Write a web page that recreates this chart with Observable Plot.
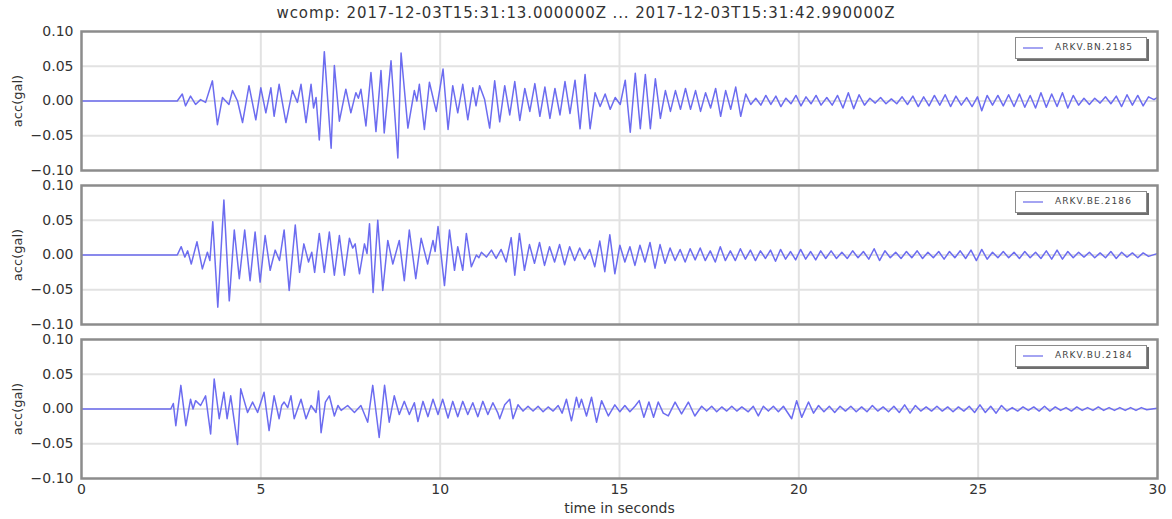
<!DOCTYPE html>
<html>
<head>
<meta charset="utf-8">
<script src="https://cdn.jsdelivr.net/npm/d3@7"></script>
<script src="https://cdn.jsdelivr.net/npm/@observablehq/plot@0.6"></script>
<style>
  html, body { margin: 0; padding: 0; background: #fff; }
  #wrap { position: relative; width: 1172px; height: 519px; font-family: "DejaVu Sans", sans-serif; color: #333; }
  #title { height: 22px; line-height: 26px; text-align: center; font-size: 15px; letter-spacing: 0.9px; color: #333; white-space: nowrap; }
  .legend { position: absolute; width: 130px; height: 20px; background: #fff; border: 1px solid #8a8a8a; box-shadow: 2px 2px 0 #6e6e6e; font-size: 9px; color: #444; }
  .legend .sw { position: absolute; left: 7px; top: 9px; width: 20px; height: 0; border-top: 2px solid #a4a4f2; }
  .legend .lb { position: absolute; left: 39px; top: 4px; white-space: nowrap; letter-spacing: 1.1px; }
</style>
</head>
<body>
<div id="wrap">
  <div id="title"></div>
</div>
<script>
const titleText = "wcomp: 2017-12-03T15:31:13.000000Z ... 2017-12-03T15:31:42.990000Z";
const stations = ["ARKV.BN.2185", "ARKV.BE.2186", "ARKV.BU.2184"];
const xTicks = [0, 5, 10, 15, 20, 25, 30];
const yTicks = [-0.10, -0.05, 0.00, 0.05, 0.10];
const xLabel = "time in seconds";
const yLabel = "acc(gal)";

// [time (s), acceleration (gal)] vertices
const seriesBN = [
  [0,0],[2.67,0],[2.81,0.010],[2.90,-0.007],[3.04,0.007],[3.18,-0.005],[3.32,0.002],[3.46,-0.002],[3.65,0.029],[3.79,-0.034],
  [3.93,0.005],[4.11,-0.005],[4.21,0.015],[4.35,0],[4.49,-0.031],[4.67,0.022],[4.86,-0.027],[5.00,0.019],[5.14,-0.017],[5.28,0.019],
  [5.37,-0.022],[5.51,0.024],[5.70,-0.031],[5.88,0.015],[6.02,-0.002],[6.12,0.024],[6.26,-0.031],[6.40,0.024],[6.47,-0.010],[6.54,0.005],
  [6.63,-0.056],[6.77,0.071],[6.96,-0.068],[7.05,0.051],[7.19,-0.029],[7.37,0.017],[7.51,-0.017],[7.65,0.012],[7.72,0.004],[7.79,0.017],
  [7.93,-0.036],[8.07,0.041],[8.21,-0.044],[8.35,0.044],[8.44,-0.046],[8.63,0.058],[8.82,-0.082],[8.91,0.069],[9.10,-0.039],[9.28,0.015],
  [9.35,0.0],[9.42,0.024],[9.56,-0.041],[9.70,0.027],[9.89,-0.015],[10.08,0.046],[10.22,-0.041],[10.35,0.022],[10.49,-0.017],[10.63,0.024],
  [10.77,-0.027],[10.91,0.019],[11.00,-0.007],[11.10,0.022],[11.24,0.002],[11.38,-0.039],[11.52,0.029],[11.66,-0.030],[11.80,0.022],[11.94,-0.020],
  [12.08,0.028],[12.22,-0.028],[12.36,0.018],[12.50,-0.015],[12.64,0.025],[12.78,-0.022],[12.92,0.020],[13.06,-0.025],[13.20,0.018],[13.34,-0.020],
  [13.48,0.028],[13.62,-0.018],[13.76,0.030],[13.90,-0.040],[14.04,0.038],[14.18,-0.040],[14.32,0.012],[14.46,-0.008],[14.60,0.010],[14.74,-0.012],
  [14.88,0.005],[15.02,-0.005],[15.16,0.030],[15.30,-0.045],[15.44,0.040],[15.58,-0.040],[15.72,0.038],[15.86,-0.040],[16.00,0.032],[16.14,-0.025],
  [16.28,0.015],[16.42,-0.015],[16.56,0.015],[16.70,-0.012],[16.84,0.018],[16.98,-0.012],[17.12,0.015],[17.26,-0.015],[17.40,0.012],[17.54,-0.010],
  [17.68,0.018],[17.82,-0.022],[17.96,0.015],[18.10,-0.012],[18.24,0.020],[18.38,-0.022],[18.52,0.010],[18.66,-0.005],[18.80,0.004],[18.94,-0.006],
  [19.08,0.008],[19.22,-0.005],[19.36,0.007],[19.50,-0.008],[19.64,0.004],[19.78,-0.004],[19.92,0.008],[20.06,-0.007],[20.20,0.006],[20.34,-0.004],
  [20.48,0.008],[20.62,-0.006],[20.78,0.005],[20.93,-0.006],[21.08,0.008],[21.23,-0.010],[21.38,0.012],[21.53,-0.011],[21.68,0.009],[21.83,-0.006],
  [21.98,0.004],[22.13,-0.003],[22.28,0.005],[22.43,-0.004],[22.58,0.003],[22.73,-0.004],[22.88,0.006],[23.03,-0.005],[23.18,0.007],[23.33,-0.008],
  [23.48,0.006],[23.63,-0.007],[23.78,0.008],[23.93,-0.006],[24.08,0.009],[24.23,-0.008],[24.38,0.007],[24.53,-0.006],[24.68,0.005],[24.83,-0.008],
  [24.98,0.006],[25.10,-0.014],[25.25,0.008],[25.40,-0.006],[25.55,0.008],[25.70,-0.007],[25.85,0.009],[26.00,-0.008],[26.15,0.010],[26.30,-0.009],
  [26.45,0.008],[26.60,-0.010],[26.75,0.012],[26.90,-0.009],[27.05,0.010],[27.20,-0.008],[27.35,0.012],[27.50,-0.010],[27.65,0.008],[27.80,-0.006],
  [27.95,0.004],[28.10,-0.005],[28.25,0.004],[28.40,-0.003],[28.55,0.006],[28.70,-0.004],[28.85,0.007],[29.00,-0.008],[29.15,0.009],[29.30,-0.006],
  [29.45,0.008],[29.60,-0.007],[29.75,0.006],[29.90,0.002],[29.99,0.005]
];

const seriesBE = [
  [0,0],[2.67,0],[2.78,0.012],[2.88,-0.003],[2.96,0.006],[3.06,-0.013],[3.22,0.019],[3.37,-0.020],[3.51,0.004],[3.58,-0.008],
  [3.66,0.048],[3.80,-0.075],[3.97,0.079],[4.12,-0.066],[4.26,0.036],[4.40,-0.034],[4.55,0.036],[4.70,-0.037],[4.84,0.033],[4.98,-0.039],
  [5.12,0.028],[5.26,-0.022],[5.40,0.007],[5.52,-0.008],[5.65,0.036],[5.79,-0.051],[5.96,0.043],[6.08,-0.025],[6.20,0.016],[6.33,-0.010],
  [6.42,0.004],[6.50,-0.025],[6.63,0.031],[6.77,-0.025],[6.91,0.033],[7.05,-0.029],[7.19,0.028],[7.33,-0.029],[7.47,0.024],[7.56,0.010],
  [7.63,0.016],[7.75,-0.027],[7.89,0.016],[7.96,0.002],[8.03,0.045],[8.13,-0.054],[8.26,0.050],[8.40,-0.051],[8.54,0.021],[8.68,-0.013],
  [8.86,0.021],[9.00,-0.037],[9.14,0.036],[9.32,-0.034],[9.47,0.024],[9.65,-0.013],[9.80,0.021],[9.86,0.005],[9.94,0.041],[10.12,-0.044],
  [10.26,0.036],[10.40,-0.022],[10.49,0.012],[10.63,-0.022],[10.73,0.031],[10.87,-0.017],[11.01,0],[11.08,-0.004],[11.15,0.004],[11.29,-0.003],
  [11.43,0.007],[11.56,-0.005],[11.70,0.008],[11.84,-0.010],[11.98,0.025],[12.08,-0.029],[12.21,0.031],[12.35,-0.022],[12.49,0.015],[12.63,-0.012],
  [12.77,0.018],[12.91,-0.015],[13.05,0.012],[13.19,-0.010],[13.33,0.015],[13.47,-0.014],[13.61,0.012],[13.75,-0.008],[13.89,0.010],[14.03,-0.006],
  [14.17,0.008],[14.31,-0.017],[14.45,0.020],[14.59,-0.024],[14.73,0.029],[14.87,-0.027],[15.01,0.014],[15.15,-0.010],[15.29,0.012],[15.43,-0.015],
  [15.57,0.014],[15.71,-0.010],[15.85,0.018],[15.99,-0.019],[16.13,0.015],[16.27,-0.012],[16.41,0.010],[16.55,-0.008],[16.69,0.008],[16.83,-0.010],
  [16.97,0.009],[17.11,-0.007],[17.25,0.010],[17.39,-0.008],[17.53,0.006],[17.67,-0.010],[17.81,0.012],[17.95,-0.008],[18.09,0.006],[18.23,-0.008],
  [18.37,0.009],[18.51,-0.006],[18.65,0.007],[18.79,-0.008],[18.93,0.006],[19.07,-0.005],[19.21,0.007],[19.35,-0.009],[19.49,0.008],[19.63,-0.006],
  [19.77,0.005],[19.91,-0.007],[20.05,0.008],[20.19,-0.006],[20.33,0.005],[20.47,-0.007],[20.61,0.006],[20.75,-0.005],[20.90,0.006],[21.05,-0.005],
  [21.20,0.004],[21.35,-0.005],[21.50,0.006],[21.65,-0.004],[21.80,0.005],[21.95,-0.006],[22.10,0.009],[22.25,-0.008],[22.40,0.006],[22.55,-0.004],
  [22.70,0.004],[22.85,-0.005],[23.00,0.005],[23.15,-0.004],[23.30,0.006],[23.45,-0.005],[23.60,0.004],[23.75,-0.004],[23.90,0.005],[24.05,-0.006],
  [24.20,0.005],[24.35,-0.004],[24.50,0.006],[24.65,-0.005],[24.80,0.007],[24.95,-0.008],[25.10,0.008],[25.25,-0.006],[25.40,0.004],[25.55,-0.004],
  [25.70,0.005],[25.85,-0.004],[26.00,0.004],[26.15,-0.005],[26.30,0.005],[26.45,-0.004],[26.60,0.004],[26.75,-0.005],[26.90,0.006],[27.05,-0.006],
  [27.20,0.007],[27.35,-0.006],[27.50,0.005],[27.65,-0.004],[27.80,0.004],[27.95,-0.003],[28.10,0.004],[28.25,-0.004],[28.40,0.003],[28.55,-0.004],
  [28.70,0.005],[28.85,-0.005],[29.00,0.004],[29.15,-0.003],[29.30,0.003],[29.45,-0.004],[29.60,0.003],[29.75,-0.002],[29.99,0.002]
];

const seriesBU = [
  [0,0],[2.49,0],[2.56,0.008],[2.63,-0.024],[2.77,0.034],[2.91,-0.024],[3.04,0.014],[3.11,0],[3.18,0.012],[3.32,0.005],
  [3.46,0.019],[3.60,-0.036],[3.70,0.043],[3.84,-0.014],[3.97,0.024],[4.06,-0.014],[4.16,0.019],[4.35,-0.051],[4.44,0.029],[4.63,-0.005],
  [4.77,0.010],[4.91,-0.005],[5.09,0.024],[5.23,-0.031],[5.37,0.019],[5.51,-0.014],[5.58,0.005],[5.65,0.010],[5.75,0.002],[5.84,0.019],
  [5.93,-0.014],[6.12,0.014],[6.26,-0.014],[6.40,0.005],[6.54,-0.005],[6.61,0.026],[6.68,-0.034],[6.80,0.010],[6.91,0.019],[7.05,-0.010],
  [7.15,0.005],[7.24,-0.002],[7.42,0.005],[7.61,-0.005],[7.79,0.005],[7.98,-0.019],[8.12,0.034],[8.30,-0.041],[8.45,0.034],[8.58,-0.019],
  [8.72,0.019],[8.86,-0.008],[9.00,0.011],[9.14,-0.008],[9.28,0.009],[9.38,-0.018],[9.52,0.011],[9.66,-0.011],[9.80,0.014],[9.94,-0.008],
  [10.07,0.014],[10.22,-0.013],[10.35,0.011],[10.49,-0.011],[10.63,0.011],[10.77,-0.008],[10.91,0.009],[11.05,-0.011],[11.19,0.011],[11.33,-0.008],
  [11.47,0.009],[11.61,-0.006],[11.66,-0.014],[11.80,0.006],[11.94,0.014],[12.03,-0.014],[12.17,0.006],[12.31,-0.003],[12.45,0.004],[12.59,-0.003],
  [12.73,0.004],[12.87,-0.004],[13.01,0.003],[13.15,-0.003],[13.29,0.005],[13.40,-0.006],[13.52,0.014],[13.66,-0.017],[13.80,0.017],[13.87,0.002],
  [13.94,0.014],[14.08,-0.010],[14.22,0.017],[14.36,-0.019],[14.50,0.012],[14.69,-0.010],[14.87,0.006],[15.01,-0.004],[15.15,0.005],[15.29,-0.004],
  [15.43,0.004],[15.55,0.012],[15.68,-0.012],[15.82,0.010],[15.95,-0.012],[16.08,0.010],[16.22,-0.006],[16.36,-0.010],[16.55,0.010],[16.73,-0.007],
  [16.92,0.010],[17.10,-0.010],[17.29,0.004],[17.43,-0.003],[17.57,0.004],[17.71,-0.004],[17.85,0.003],[17.99,-0.003],[18.13,0.004],[18.27,-0.003],
  [18.41,0.003],[18.59,-0.004],[18.73,0.004],[18.87,-0.010],[19.01,0.004],[19.15,-0.003],[19.29,0.004],[19.43,-0.004],[19.57,0.004],[19.80,-0.014],
  [19.94,0.012],[20.08,-0.012],[20.27,0.010],[20.41,-0.006],[20.55,0.005],[20.70,-0.004],[20.85,0.004],[21.00,-0.005],[21.15,0.004],[21.30,-0.003],
  [21.45,0.004],[21.60,-0.004],[21.75,0.003],[21.90,-0.004],[22.05,0.005],[22.20,-0.003],[22.35,0.003],[22.50,-0.004],[22.65,0.004],[22.80,-0.005],
  [22.95,0.006],[23.10,-0.006],[23.25,0.005],[23.40,-0.003],[23.55,0.003],[23.70,-0.003],[23.85,0.004],[24.00,-0.003],[24.15,0.003],[24.30,-0.004],
  [24.45,0.003],[24.60,-0.003],[24.75,0.004],[24.90,-0.005],[25.05,0.006],[25.20,-0.005],[25.35,0.004],[25.50,-0.006],[25.65,0.005],[25.80,-0.003],
  [25.95,0.002],[26.10,-0.003],[26.25,0.003],[26.40,-0.002],[26.55,0.003],[26.70,-0.003],[26.85,0.004],[27.00,-0.003],[27.15,0.003],[27.30,-0.002],
  [27.45,0.002],[27.60,-0.003],[27.75,0.003],[27.90,-0.002],[28.05,0.002],[28.20,-0.002],[28.35,0.003],[28.50,-0.002],[28.65,0.002],[28.80,-0.002],
  [28.95,0.002],[29.10,-0.002],[29.25,0.002],[29.40,-0.002],[29.55,0.002],[29.70,-0.001],[29.99,0.001]
];

const allSeries = [seriesBN, seriesBE, seriesBU];
const rows = [];
allSeries.forEach((s, i) => s.forEach(([t, v]) => rows.push({panel: stations[i], t, v})));

document.getElementById("title").textContent = titleText;

const chart = Plot.plot({
  width: 1172,
  height: 497,
  marginLeft: 81,
  marginRight: 15,
  marginTop: 9,
  marginBottom: 41,
  style: {fontFamily: "DejaVu Sans, sans-serif", fontSize: "14px", color: "#333", background: "white", overflow: "visible"},
  facet: {data: rows, y: "panel", marginTop: 9, marginBottom: 41, marginRight: 15, label: null},
  fy: {domain: stations, axis: null, paddingInner: 0.1, paddingOuter: 0},
  x: {domain: [0, 30], ticks: xTicks, tickSize: 0, tickPadding: 6, label: xLabel, labelArrow: "none", labelAnchor: "center", labelOffset: 34},
  y: {domain: [-0.1, 0.1], ticks: yTicks, tickFormat: d3.format(".2f"), tickSize: 0, tickPadding: 8, label: null},
  marks: [
    Plot.gridX(xTicks.slice(1, -1), {stroke: "#e2e2e2", strokeWidth: 2, strokeOpacity: 1}),
    Plot.gridY(yTicks.slice(1, -1), {stroke: "#e2e2e2", strokeWidth: 2, strokeOpacity: 1}),
    Plot.line(rows, {x: "t", y: "v", z: "panel", stroke: "#6c6cf0", strokeWidth: 1.5}),
    Plot.frame({stroke: "#8c8c8c", strokeWidth: 2.5}),
    Plot.text([yLabel], {frameAnchor: "left", rotate: -90, dx: -64, textAnchor: "middle", fontSize: 13, fill: "#333"})
  ]
});

const wrap = document.getElementById("wrap");
wrap.appendChild(chart);

// legends (one per panel, placed in the top-right corner of each panel)
const svgRect = chart.getBoundingClientRect();
const wrapRect = wrap.getBoundingClientRect();
const bw = (497 - 9 - 41) / (3 - 0.1);
stations.forEach((name, i) => {
  const panelTop = (svgRect.top - wrapRect.top) + 9 + i * bw;
  const d = document.createElement("div");
  d.className = "legend";
  d.style.left = "1015px";
  d.style.top = (panelTop + 6) + "px";
  d.innerHTML = '<div class="sw"></div><div class="lb"></div>';
  d.querySelector(".lb").textContent = name;
  wrap.appendChild(d);
});
</script>
</body>
</html>
